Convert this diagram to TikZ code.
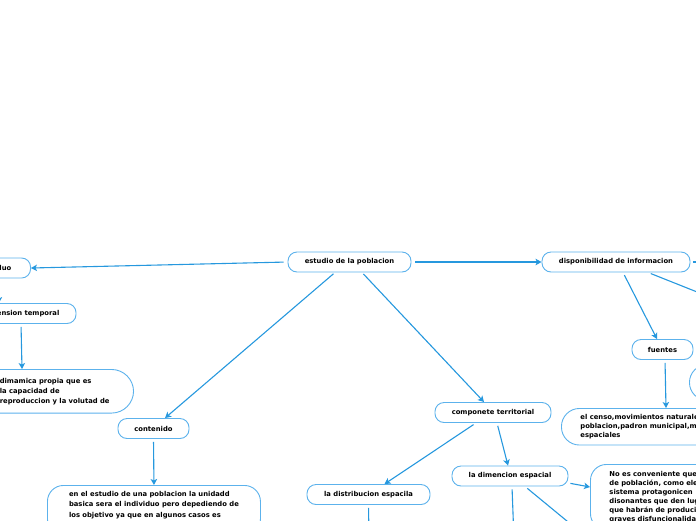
\documentclass[tikz,border=0pt]{standalone}
\usepackage{fontspec}
\newfontfamily\mapafont{DejaVu Sans}
\usetikzlibrary{arrows.meta}
\definecolor{lineablue}{RGB}{38,152,222}
\definecolor{bordeblue}{RGB}{92,178,236}

\begin{document}
\begin{tikzpicture}[x=1pt,y=-1pt,
        tema/.style={
            draw=bordeblue,
            line width=0.9pt,
            fill=white,
            rounded corners=9pt,
            minimum height=20pt,
            inner sep=2pt,
            font=\mapafont\bfseries\fontsize{6.8}{8}\selectfont
        },
        nota/.style={
            draw=bordeblue,
            line width=0.9pt,
            fill=white,
            rounded corners=16pt,
            align=left,
            inner xsep=19pt,
            inner ysep=6pt,
            font=\mapafont\bfseries\fontsize{6.8}{9}\selectfont
        },
        flecha/.style={-{Stealth[length=6pt,width=6.5pt,inset=1.5pt]}, line width=1.1pt, draw=lineablue, shorten <=3pt}
    ]
    \useasboundingbox (0,0) rectangle (696,520);

    % Temas
    \node[tema, minimum width=123pt] (estudio) at (349.5,262) {estudio de la poblacion};
    \node[tema, minimum width=148pt] (dispon) at (616,262) {disponibilidad de informacion};
    \node[tema, minimum width=74pt, anchor=east] (indiv) at (31,268) {individuo};
    \node[tema, minimum width=110pt] (dimtemp) at (21,313.5) {dimension temporal};
    \node[tema, minimum width=71pt] (conten) at (153.5,428.5) {contenido};
    \node[tema, minimum width=116pt] (compon) at (493,412.5) {componete territorial};
    \node[tema, minimum width=116pt] (dimesp) at (510,476) {la dimencion espacial};
    \node[tema, minimum width=123pt] (distrib) at (368.5,494.5) {la distribucion espacila};
    \node[tema, minimum width=61pt] (fuentes) at (662.5,349.5) {fuentes};

    % Notas
    \node[nota, anchor=north east, inner xsep=24pt, inner ysep=8.5pt, rounded corners=22pt,
          font=\mapafont\bfseries\fontsize{6.8}{10}\selectfont] (dinam) at (134,369)
        {dimamica propia que es\\la capacidad de\\reproduccion y la volutad de};
    \node[nota, anchor=north west, minimum width=213pt, inner xsep=4pt,
          font=\mapafont\bfseries\fontsize{6.8}{10.3}\selectfont] (unidad) at (47,485)
        {en el estudio de una poblacion la unidadd\\basica sera el individuo pero depediendo de\\los objetivo ya que en algunos casos es\\necesario manejar otras unidades como los};
    \node[nota, anchor=north west, rounded corners=18pt] (censo) at (561,408)
        {el censo,movimientos naturales\\poblacion,padron municipal,movimientos\\espaciales};
    \node[nota, anchor=north west, inner ysep=7pt, font=\mapafont\bfseries\fontsize{6.8}{8.9}\selectfont] (conven) at (590,464)
        {No es conveniente que\\de población, como elementos\\sistema protagonicen\\disonantes que den lugar\\que habrán de producir\\graves disfuncionalidades};
    \node[nota, anchor=west, minimum width=60pt, minimum height=36pt, rounded corners=18pt] (otro) at (689,382.5) {};

    % Extremos fuera
    \coordinate (dispE) at (730,262);
    \coordinate (dispSE) at (760,317);
    \coordinate (dimS) at (514,540);
    \coordinate (dimSE) at (590,540);
    \coordinate (distS) at (369,540);

    % Conexiones
    \draw[flecha, shorten <=4pt] (estudio.west) -- (indiv.east);
    \draw[flecha, shorten <=4pt] (estudio.east) -- (dispon.west);
    \draw[flecha, shorten <=2pt] ([xshift=-14.5pt]estudio.south) -- ([xshift=11.5pt]conten.north);
    \draw[flecha, shorten <=2pt] ([xshift=12.5pt]estudio.south) -- ([xshift=-9pt]compon.north);
    \draw[flecha] ([xshift=-17pt]compon.south) -- ([xshift=16pt]distrib.north);
    \draw[flecha] ([xshift=4pt]compon.south) -- ([xshift=-2pt]dimesp.north);
    \draw[flecha, shorten <=2pt] ([yshift=-7pt]dimesp.east) -- ([yshift=-23pt]conven.north west);
    \draw[flecha] ([xshift=2pt]dimesp.south) -- (dimS);
    \draw[flecha] ([xshift=15pt]dimesp.south) -- (dimSE);
    \draw[flecha] (distrib.south) -- (distS);
    \draw[flecha] ([xshift=7pt]dispon.south) -- ([xshift=-5.5pt]fuentes.north);
    \draw[flecha] ([xshift=32pt]dispon.south) -- (dispSE);
    \draw[flecha] (dispon.east) -- (dispE);
    \draw[flecha] ([xshift=2.5pt]fuentes.south) -- ([xshift=105pt]censo.north west);
    \draw[flecha] (conten.south) -- (unidad.north);
    \draw[flecha] ([xshift=5pt]indiv.south) -- ([xshift=-22pt]dimtemp.north);
    \draw[flecha] (dimtemp.south) -- ([xshift=-112pt]dinam.north east);

\end{tikzpicture}
\end{document}
